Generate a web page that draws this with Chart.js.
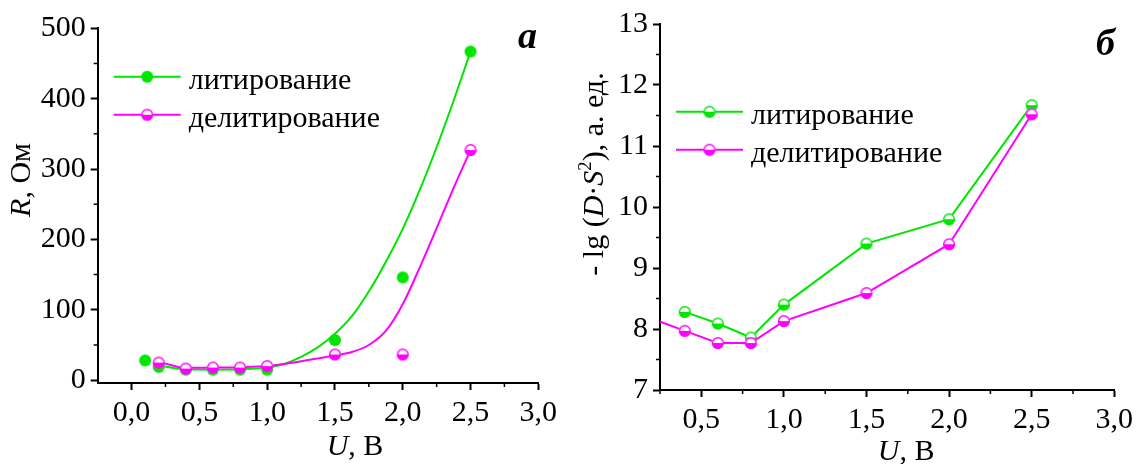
<!DOCTYPE html>
<html>
<head>
<meta charset="utf-8">
<script src="https://cdn.jsdelivr.net/npm/chart.js@4/dist/chart.umd.min.js"></script>
<style>
  html, body { margin: 0; padding: 0; background: #fff; overflow: hidden; }
  .panel { position: absolute; top: 0; width: 568px; height: 464px; }
</style>
</head>
<body>
<div class="panel" style="left:0"><canvas id="chartR" width="568" height="464"></canvas></div>
<div class="panel" style="left:568px"><canvas id="chartD" width="568" height="464"></canvas></div>
<script>
const GREEN = "#00e600";
const MAGENTA = "#ff00ff";
const FONT = "'Liberation Serif', 'Times New Roman', serif";

const labelLit = "литирование";
const labelDelit = "делитирование";

// panel а: R (Ом) vs U (В), measured points
const uLitR = [0.1, 0.2, 0.4, 0.6, 0.8, 1.0, 1.5, 2.0, 2.5];
const rLit = [28, 19, 15, 15, 15, 15, 57, 146, 467];
const uDelitR = [0.2, 0.4, 0.6, 0.8, 1.0, 1.5, 2.0, 2.5];
const rDelit = [25, 16.5, 18, 18, 20, 36.5, 36.5, 327];

// panel а: fitted curves
const uFit = [0.2, 0.4, 0.6, 0.8, 1.0, 1.125, 1.25, 1.375, 1.5, 1.625, 1.75, 1.875, 2.0, 2.125, 2.25, 2.375, 2.5];
const rLitFit = [21, 15.5, 15, 15.5, 18, 23, 33, 47, 66, 91, 126, 168, 215, 270, 331, 397, 467];
const rDelitFit = [26, 17.5, 18, 18.5, 20, 23, 27, 31, 35, 40, 50, 70, 108, 160, 216, 273, 327];

// panel б: -lg(D·S²) vs U
const uLitD = [0.4, 0.6, 0.8, 1.0, 1.5, 2.0, 2.5];
const dLit = [8.28, 8.09, 7.86, 8.40, 9.40, 9.80, 11.67];
const uDelitD = [0.2, 0.4, 0.6, 0.8, 1.0, 1.5, 2.0, 2.5];
const dDelit = [8.17, 7.97, 7.77, 7.77, 8.13, 8.59, 9.39, 11.52];

// ticks
const xTicksR = [0, 0.5, 1.0, 1.5, 2.0, 2.5, 3.0];
const xMinorR = [0.25, 0.75, 1.25, 1.75, 2.25, 2.75];
const yTicksR = [0, 100, 200, 300, 400, 500];
const yMinorR = [50, 150, 250, 350, 450];
const xTicksD = [0.5, 1.0, 1.5, 2.0, 2.5, 3.0];
const xMinorD = [0.25, 0.75, 1.25, 1.75, 2.25, 2.75];
const yTicksD = [7, 8, 9, 10, 11, 12, 13];
const yMinorD = [7.5, 8.5, 9.5, 10.5, 11.5, 12.5];

function pts(xs, ys) {
  return xs.map((x, i) => ({ x: x, y: ys[i] }));
}

// circle marker, either solid or with white top half
function marker(color, half) {
  const r = 6;
  const c = document.createElement("canvas");
  c.width = c.height = 2 * r + 2;
  const g = c.getContext("2d");
  const m = r + 1;
  if (half) {
    g.fillStyle = "#fff";
    g.beginPath(); g.arc(m, m, r, 0, 2 * Math.PI); g.fill();
    g.fillStyle = color;
    g.beginPath(); g.arc(m, m, r, 0, Math.PI); g.fill();
    g.strokeStyle = color; g.lineWidth = 1.4;
    g.beginPath(); g.arc(m, m, r - 0.7, 0, 2 * Math.PI); g.stroke();
  } else {
    g.fillStyle = color;
    g.beginPath(); g.arc(m, m, r, 0, 2 * Math.PI); g.fill();
  }
  return c;
}

const dotGreen = marker(GREEN, false);
const halfGreen = marker(GREEN, true);
const halfMagenta = marker(MAGENTA, true);

// text made of runs: plain, italic, superscript
function drawRich(ctx, parts, x, y, rot, size) {
  ctx.save();
  ctx.translate(x, y);
  ctx.rotate(rot);
  const fontOf = (p) => (p.i ? "italic " : "") + (p.sup ? size * 0.62 : size) + "px " + FONT;
  let w = 0;
  parts.forEach((p) => { ctx.font = fontOf(p); w += ctx.measureText(p.t).width; });
  let cx = -w / 2;
  ctx.fillStyle = "#000";
  ctx.textAlign = "left";
  ctx.textBaseline = "alphabetic";
  parts.forEach((p) => {
    ctx.font = fontOf(p);
    ctx.fillText(p.t, cx, p.sup ? size * 0.33 - size * 0.4 : size * 0.33);
    cx += ctx.measureText(p.t).width;
  });
  ctx.restore();
}

// minor ticks, axis titles, legend and panel letter
function decorations(cfg) {
  return {
    id: "decorations",
    afterDraw(chart) {
      const ctx = chart.ctx;
      const area = chart.chartArea;
      const xs = chart.scales.x;
      const ys = chart.scales.y;
      ctx.save();
      ctx.strokeStyle = "#000";
      ctx.lineWidth = 1.5;
      ctx.beginPath();
      cfg.xMinor.forEach((v) => {
        const px = xs.getPixelForValue(v);
        ctx.moveTo(px, area.bottom);
        ctx.lineTo(px, area.bottom + 4);
      });
      cfg.yMinor.forEach((v) => {
        const py = ys.getPixelForValue(v);
        ctx.moveTo(area.left, py);
        ctx.lineTo(area.left - 4, py);
      });
      ctx.stroke();

      drawRich(ctx, cfg.xTitle, (area.left + area.right) / 2 + cfg.xTitleShift, area.bottom + cfg.xTitleDrop, 0, 30);
      drawRich(ctx, cfg.yTitle, area.left - cfg.yTitleGap, (area.top + area.bottom) / 2 + cfg.yTitleShift, -Math.PI / 2, 30);

      cfg.legend.forEach((item, i) => {
        const y = area.top + cfg.legendTop + i * 38;
        const x0 = area.left + 16;
        ctx.strokeStyle = item.color;
        ctx.lineWidth = 2;
        ctx.beginPath();
        ctx.moveTo(x0, y);
        ctx.lineTo(x0 + 67, y);
        ctx.stroke();
        ctx.drawImage(item.marker, x0 + 33.5 - item.marker.width / 2, y - item.marker.height / 2);
        ctx.font = "30px " + FONT;
        ctx.fillStyle = "#000";
        ctx.textAlign = "left";
        ctx.textBaseline = "alphabetic";
        ctx.fillText(item.label, x0 + 75, y + 12.5);
      });

      ctx.font = "italic bold 38px " + FONT;
      ctx.fillStyle = "#000";
      ctx.textAlign = "center";
      ctx.textBaseline = "alphabetic";
      ctx.fillText(cfg.letter, area.right - cfg.letterInset, area.top + cfg.letterDrop);
      ctx.restore();
    },
  };
}

function axis(horizontal, min, max, ticks, fmt, size) {
  return {
    type: "linear",
    min: min,
    max: max,
    afterBuildTicks: (s) => { s.ticks = ticks.map((v) => ({ value: v })); },
    afterFit: (s) => {
      if (horizontal) { s.height = size; s.paddingLeft = 0; s.paddingRight = 0; }
      else { s.width = size; s.paddingTop = 0; s.paddingBottom = 0; }
    },
    border: { display: true, color: "#000", width: 2 },
    grid: { drawOnChartArea: false, drawTicks: true, tickLength: 7, tickWidth: 2, tickColor: "#000" },
    ticks: { color: "#000", font: { family: FONT, size: 30 }, padding: 5, autoSkip: false, maxRotation: 0, callback: fmt },
  };
}

const fmtU = (v) => v.toFixed(1).replace(".", ",");
const fmtInt = (v) => String(v);

new Chart(document.getElementById("chartR"), {
  type: "line",
  data: {
    datasets: [
      { label: labelDelit, data: pts(uDelitR, rDelit), showLine: false, pointStyle: halfMagenta, pointRadius: 6, order: 0 },
      { label: labelLit, data: pts(uLitR, rLit), showLine: false, pointStyle: dotGreen, pointRadius: 6, order: 1 },
      { label: labelDelit, data: pts(uFit, rDelitFit), borderColor: MAGENTA, borderWidth: 2, pointRadius: 0, cubicInterpolationMode: "monotone", order: 2 },
      { label: labelLit, data: pts(uFit, rLitFit), borderColor: GREEN, borderWidth: 2, pointRadius: 0, cubicInterpolationMode: "monotone", order: 3 },
    ],
  },
  options: {
    responsive: false,
    animation: false,
    events: [],
    layout: { padding: { left: 0, top: 28.3, right: 29.7, bottom: 0 } },
    plugins: { legend: { display: false }, tooltip: { enabled: false } },
    scales: {
      x: axis(true, -0.25, 3.0, xTicksR, fmtU, 81),
      y: axis(false, -4, 500, yTicksR, fmtInt, 97.7),
    },
  },
  plugins: [decorations({
    xMinor: xMinorR,
    yMinor: yMinorR,
    xTitle: [{ t: "U", i: true }, { t: ", В" }],
    xTitleShift: 37,
    xTitleDrop: 62,
    yTitle: [{ t: "R", i: true }, { t: ", Ом" }],
    yTitleGap: 77.7,
    yTitleShift: -25.7,
    legend: [
      { label: labelLit, color: GREEN, marker: dotGreen },
      { label: labelDelit, color: MAGENTA, marker: halfMagenta },
    ],
    legendTop: 48.4,
    letter: "а",
    letterInset: 10.8,
    letterDrop: 20,
  })],
});

new Chart(document.getElementById("chartD"), {
  type: "line",
  data: {
    datasets: [
      { label: labelDelit, data: pts(uDelitD, dDelit), borderColor: MAGENTA, borderWidth: 2, pointStyle: halfMagenta, pointRadius: 6, tension: 0, clip: 0, order: 0 },
      { label: labelLit, data: pts(uLitD, dLit), borderColor: GREEN, borderWidth: 2, pointStyle: halfGreen, pointRadius: 6, tension: 0, clip: 0, order: 1 },
    ],
  },
  options: {
    responsive: false,
    animation: false,
    events: [],
    layout: { padding: { left: 0, top: 24, right: 21.7, bottom: 0 } },
    plugins: { legend: { display: false }, tooltip: { enabled: false } },
    scales: {
      x: axis(true, 0.25, 3.0, xTicksD, fmtU, 74),
      y: axis(false, 7, 13, yTicksD, fmtInt, 92),
    },
  },
  plugins: [decorations({
    xMinor: xMinorD,
    yMinor: yMinorD,
    xTitle: [{ t: "U", i: true }, { t: ", В" }],
    xTitleShift: 19,
    xTitleDrop: 60,
    yTitle: [{ t: "- lg (" }, { t: "D", i: true }, { t: "·" }, { t: "S", i: true }, { t: "2", sup: true }, { t: "), а. ед." }],
    yTitleGap: 67,
    yTitleShift: -33,
    legend: [
      { label: labelLit, color: GREEN, marker: halfGreen },
      { label: labelDelit, color: MAGENTA, marker: halfMagenta },
    ],
    legendTop: 87.7,
    letter: "б",
    letterInset: 8.8,
    letterDrop: 31,
  })],
});
</script>
</body>
</html>
